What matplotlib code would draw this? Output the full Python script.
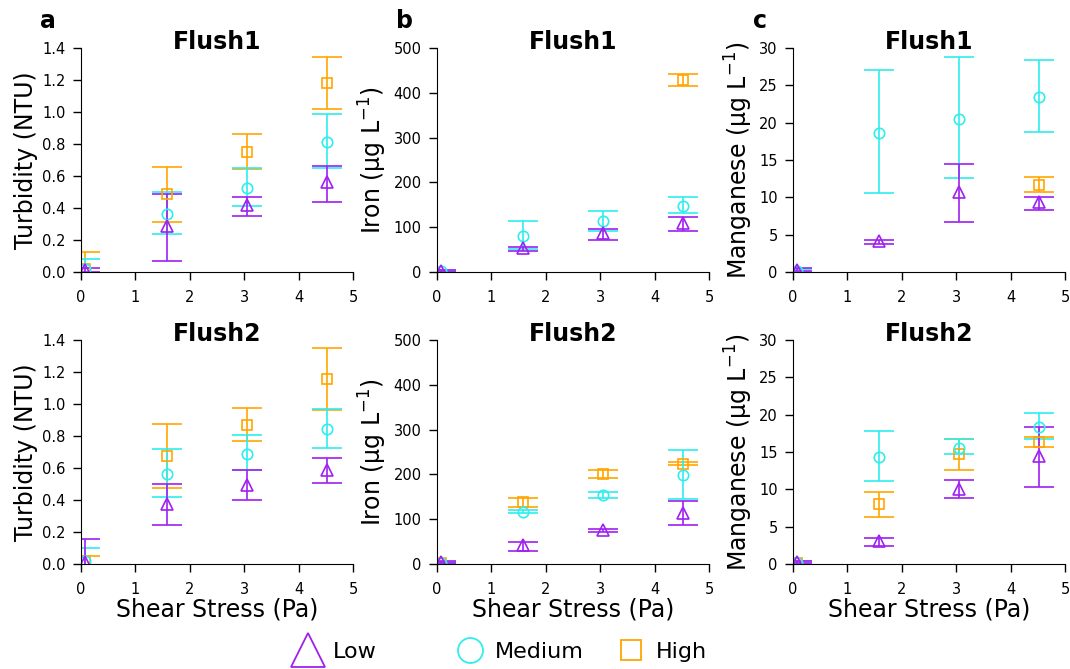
import numpy as np
import matplotlib
matplotlib.use("Agg")
import matplotlib.pyplot as plt
from matplotlib.lines import Line2D

nan = np.nan
shear = [0.08, 1.58, 3.05, 4.53]
groups = ["Low", "Medium", "High"]

# (mean, lower cap, upper cap)
turb1_low = [(0.01, -0.003, 0.023), (0.285, 0.07, 0.49), (0.42, 0.352, 0.47), (0.56, 0.44, 0.662)]
turb1_med = [(0.02, -0.041, 0.081), (0.365, 0.24, 0.498), (0.523, 0.41, 0.65), (0.815, 0.652, 0.99)]
turb1_high = [(0.02, -0.083, 0.123), (0.4875, 0.3125, 0.656), (0.75, 0.644, 0.86), (1.183, 1.019, 1.344)]

turb2_low = [(0.01, -0.134, 0.154), (0.378, 0.243, 0.503), (0.495, 0.403, 0.586), (0.585, 0.507, 0.663)]
turb2_med = [(0.02, -0.06, 0.10), (0.561, 0.418, 0.719), (0.69, 0.586, 0.808), (0.841, 0.727, 0.968)]
turb2_high = [(0.02, -0.008, 0.048), (0.677, 0.478, 0.877), (0.87, 0.771, 0.972), (1.157, 0.96, 1.352)]

iron1_low = [(3, 1, 5), (53.6, 46.9, 55.8), (87, 72.2, 96), (109, 92.3, 123.5)]
iron1_med = [(2, 0, 4), (80.4, 51.3, 114.6), (113.8, 91, 136.9), (148, 131.7, 168.2)]
iron1_high = [(nan, nan, nan), (nan, nan, nan), (nan, nan, nan), (428.6, 414.4, 441)]

iron2_low = [(4, 2, 6), (42, 29.7, 49.7), (75, 72, 78), (114, 87.5, 141)]
iron2_med = [(2, 0, 4), (116, 113, 120), (154.3, 146.9, 161.7), (199.6, 146, 254.5)]
iron2_high = [(2, 0.5, 3.5), (138, 127.6, 148.4), (201.8, 193, 210), (224, 220, 227)]

mn1_low = [(0.3, 0.1, 0.5), (4.1, 3.75, 4.33), (10.7, 6.7, 14.4), (9.4, 8.35, 10.1)]
mn1_med = [(0.2, 0, 0.4), (18.66, 10.6, 27.0), (20.5, 12.6, 28.8), (23.4, 18.75, 28.4)]
mn1_high = [(nan, nan, nan), (nan, nan, nan), (nan, nan, nan), (11.7, 10.7, 12.7)]

mn2_low = [(0.3, 0.15, 0.45), (3.1, 2.45, 3.5), (10.1, 8.9, 11.2), (14.5, 10.3, 18.4)]
mn2_med = [(0.2, 0, 0.4), (14.37, 11.08, 17.85), (15.6, 14.7, 16.8), (18.3, 16.7, 20.2)]
mn2_high = [(0.2, 0, 0.4), (8.0, 6.23, 9.7), (14.7, 12.6, 16.7), (16.3, 15.7, 16.95)]

colors = {"Low": "#A020F0", "Medium": "#2EEEEE", "High": "#FFA500"}
markers = {"Low": "^", "Medium": "o", "High": "s"}
msize = {"Low": 9, "Medium": 7.5, "High": 6.5}

fig = plt.figure(figsize=(10.7, 6.69), dpi=100)

lefts = [81 / 1070, 437 / 1070, 793 / 1070]
w = 272 / 1070
bottoms = [1 - 272 / 669, 1 - 564 / 669]
h = 224 / 669

panels = [
    (0, 0, [turb1_low, turb1_med, turb1_high], "Turbidity (NTU)", (0, 1.4), np.arange(0, 1.41, 0.2), "Flush1", "a"),
    (0, 1, [turb2_low, turb2_med, turb2_high], "Turbidity (NTU)", (0, 1.4), np.arange(0, 1.41, 0.2), "Flush2", None),
    (1, 0, [iron1_low, iron1_med, iron1_high], r"Iron ($\mathregular{\mu}$g L$^{-1}$)", (0, 500), np.arange(0, 501, 100), "Flush1", "b"),
    (1, 1, [iron2_low, iron2_med, iron2_high], r"Iron ($\mathregular{\mu}$g L$^{-1}$)", (0, 500), np.arange(0, 501, 100), "Flush2", None),
    (2, 0, [mn1_low, mn1_med, mn1_high], r"Manganese ($\mathregular{\mu}$g L$^{-1}$)", (0, 30), np.arange(0, 31, 5), "Flush1", "c"),
    (2, 1, [mn2_low, mn2_med, mn2_high], r"Manganese ($\mathregular{\mu}$g L$^{-1}$)", (0, 30), np.arange(0, 31, 5), "Flush2", None),
]

for col, row, series, ylabel, ylim, yticks, title, letter in panels:
    ax = fig.add_axes([lefts[col], bottoms[row], w, h])
    # draw high first so low ends up on top
    for g, data in reversed(list(zip(groups, series))):
        d = np.array(data, dtype=float)
        m, lo, hi = d[:, 0], d[:, 1], d[:, 2]
        ax.errorbar(shear, m, yerr=[m - lo, hi - m], fmt=markers[g], color=colors[g],
                    mfc="none", mec=colors[g], ms=msize[g], mew=1.2,
                    ecolor=colors[g], elinewidth=1.2, capsize=11, capthick=1.2)
    ax.set_xlim(0, 5)
    ax.set_ylim(*ylim)
    ax.set_yticks(yticks)
    if ylim[1] < 2:
        ax.set_yticklabels([f"{v:.1f}" for v in yticks])
    ax.set_xticks(range(6))
    ax.spines["top"].set_visible(False)
    ax.spines["right"].set_visible(False)
    ax.tick_params(labelsize=10.5, length=6, width=1, pad=5, direction="out")
    ax.tick_params(axis="x", pad=7)
    ax.set_ylabel(ylabel, fontsize=17, labelpad=3)
    ax.text(0.5, 1.025, title, transform=ax.transAxes, ha="center", va="center",
            fontsize=17, fontweight="bold")
    if row == 1:
        ax.set_xlabel("Shear Stress (Pa)", fontsize=17, labelpad=0)
    if letter:
        ax.text(-0.12, 1.12, letter, transform=ax.transAxes, ha="center", va="center",
                fontsize=17, fontweight="bold")

# legend drawn as fixed-width columns
leg_x = [308 / 1070, 470 / 1070, 631 / 1070]
leg_ms = [24, 18, 15]
for g, lx, s in zip(groups, leg_x, leg_ms):
    fig.add_artist(Line2D([lx], [1 - 650 / 669], transform=fig.transFigure, ls="none",
                          marker=markers[g], mfc="none", mec=colors[g], ms=s, mew=1.3))
    fig.text(lx + 25 / 1070, 1 - 652 / 669, g, ha="left", va="center", fontsize=16)

fig.savefig("out.png", dpi=100)
